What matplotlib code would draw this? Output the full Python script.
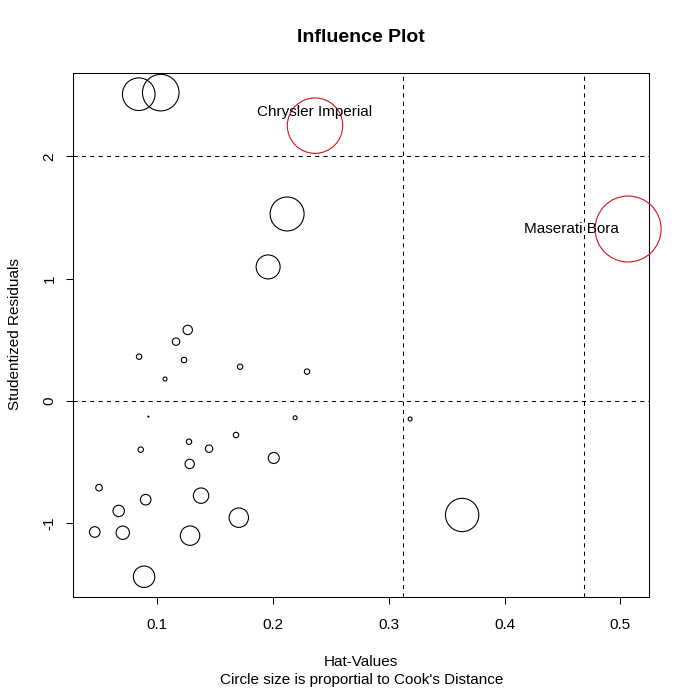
import matplotlib
matplotlib.use("Agg")
import matplotlib.pyplot as plt
import numpy as np

plt.rcParams['font.family'] = ['Liberation Sans', 'DejaVu Sans']

# hat-values, studentized residuals and Cook's distance
hat = [0.0842, 0.1032, 0.2364, 0.2123, 0.1959, 0.5067, 0.1265, 0.1164,
       0.0845, 0.1233, 0.1069, 0.1717, 0.2295, 0.0925, 0.2192, 0.3185,
       0.1276, 0.1682, 0.0859, 0.1449, 0.1282, 0.2008, 0.0499, 0.0902,
       0.1380, 0.0669, 0.1706, 0.3634, 0.0462, 0.0704, 0.1285, 0.0888]
rstud = [2.508, 2.521, 2.251, 1.529, 1.096, 1.406, 0.581, 0.485,
         0.362, 0.335, 0.180, 0.280, 0.240, -0.128, -0.137, -0.147,
         -0.333, -0.278, -0.398, -0.390, -0.515, -0.466, -0.709, -0.807,
         -0.774, -0.899, -0.954, -0.932, -1.071, -1.077, -1.101, -1.437]
cookd = [0.1025, 0.129, 0.296, 0.111, 0.0555, 0.42, 0.0085, 0.0053,
         0.0028, 0.0028, 0.0015, 0.0028, 0.0028, 0.0001, 0.0015, 0.0015,
         0.0028, 0.0028, 0.0028, 0.0053, 0.0085, 0.0117, 0.0042, 0.0108,
         0.0229, 0.0125, 0.0363, 0.107, 0.0108, 0.0172, 0.0363, 0.0442]
labels = {2: "Chrysler Imperial", 5: "Maserati Bora"}
hat_cuts = [0.3125, 0.46875]
rstud_cuts = [-2, 0, 2]

hat = np.array(hat)
rstud = np.array(rstud)
cookd = np.array(cookd)

fig = plt.figure(figsize=(6.89, 6.89), dpi=100)
ax = fig.add_axes([73.3 / 689, 1 - 597.3 / 689, 576 / 689, 524 / 689])

# circle radius proportional to sqrt(Cook's D), max radius ~33 px
r_px = 33 * np.sqrt(cookd / cookd.max())
sizes = (2 * r_px * 0.72) ** 2
colors = ['#d0141c' if i in labels else 'black' for i in range(len(hat))]
ax.scatter(hat, rstud, s=sizes, facecolors='none', edgecolors=colors,
           linewidths=0.8, zorder=3, clip_on=False)

for v in hat_cuts:
    ax.axvline(v, color='black', lw=0.75, ls=(0, (4, 4)))
for h in rstud_cuts:
    ax.axhline(h, color='black', lw=0.75, ls=(0, (4, 4)))

fs = 11
ax.annotate(labels[2], (hat[2], rstud[2]), xytext=(0, 10), textcoords='offset points',
            ha='center', va='center', fontsize=fs)
ax.annotate(labels[5], (hat[5], rstud[5]), xytext=(-6.5, 0), textcoords='offset points',
            ha='right', va='center', fontsize=fs)

ax.set_xlim(0.0277, 0.525)
ax.set_ylim(-1.605, 2.679)
ax.set_xticks([0.1, 0.2, 0.3, 0.4, 0.5])
ax.set_xticklabels(['0.1', '0.2', '0.3', '0.4', '0.5'])
ax.set_yticks([-1, 0, 1, 2])
ax.set_yticklabels(['-1', '0', '1', '2'], rotation=90, va='center')
ax.tick_params(direction='out', length=5, width=0.75, labelsize=fs)
ax.tick_params(axis='x', pad=10)
ax.tick_params(axis='y', pad=7)
for sp in ax.spines.values():
    sp.set_linewidth(0.75)

cx = (73.3 + 576 / 2) / 689
fig.text(cx, 1 - 38 / 689, "Influence Plot", ha='center', va='center',
         fontsize=14, fontweight='bold')
fig.text(cx, 1 - 662 / 689, "Hat-Values", ha='center', va='center', fontsize=fs)
fig.text(cx, 1 - 680 / 689, "Circle size is proportial to Cook's Distance",
         ha='center', va='center', fontsize=fs)
fig.text(15 / 689, 0.5146, "Studentized Residuals", ha='center', va='center',
         rotation=90, fontsize=fs)

fig.savefig("out.png", dpi=100)
